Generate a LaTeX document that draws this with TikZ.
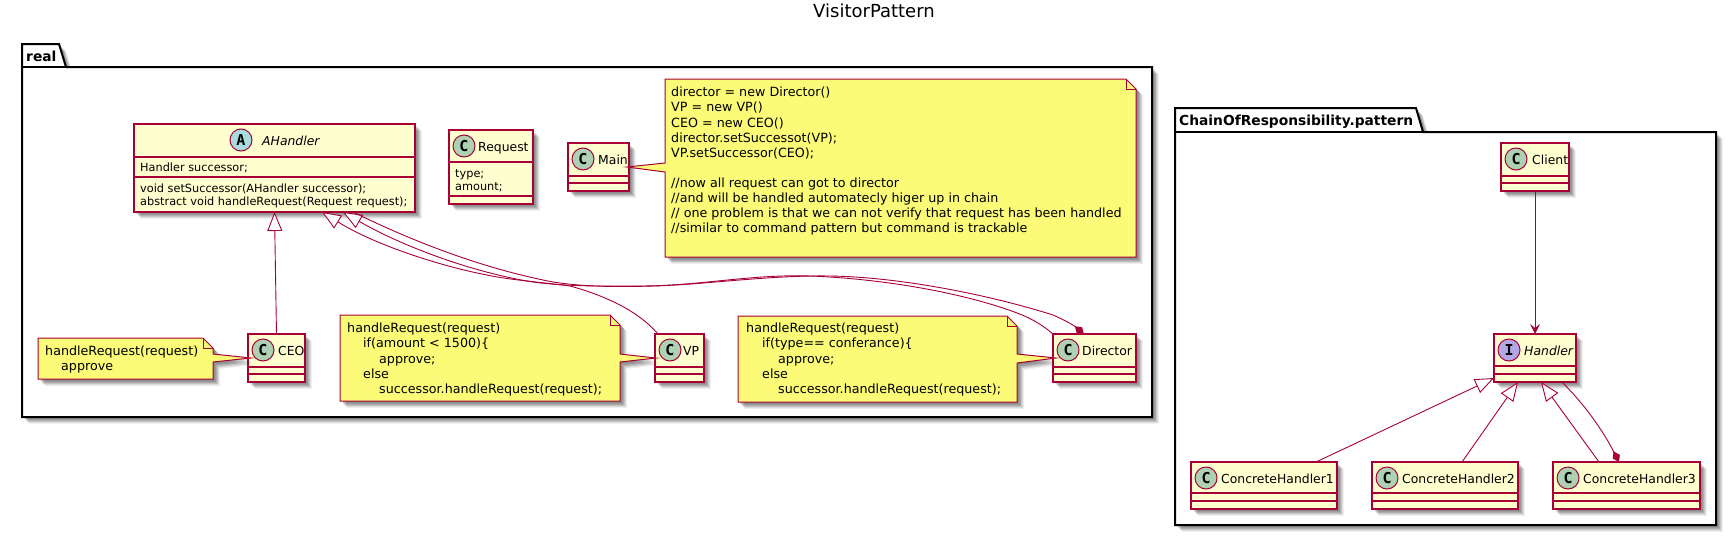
\documentclass[tikz,border=0pt]{standalone}
\usepackage{fontspec}
\setmainfont{DejaVu Sans}
\newfontfamily\circfont{DejaVu Sans Mono}
\usetikzlibrary{arrows.meta,calc}
\definecolor{umlred}{HTML}{A80036}
\definecolor{umlfill}{HTML}{FEFECE}
\definecolor{umlnote}{HTML}{FBFB77}
\definecolor{circC}{HTML}{ADD1B2}
\definecolor{circA}{HTML}{A9DCDF}
\definecolor{circI}{HTML}{B4A7E5}
\tikzset{
  x=1pt,y=-1pt,
  classbox/.style={draw=umlred,fill=umlfill,line width=1.5pt,inner sep=0pt,outer sep=0pt,rectangle},
  classline/.style={draw=umlred,line width=1.3pt},
  circlemark/.style={circle,draw=umlred,line width=1pt,minimum size=22pt,inner sep=0pt,font=\circfont\fontsize{15}{15}\selectfont\bfseries,text=black},
  classname/.style={anchor=base west,inner sep=0pt,font=\fontsize{12.4}{15}\selectfont,text=black},
  member/.style={anchor=base west,inner sep=0pt,font=\fontsize{11.3}{13}\selectfont,text=black},
  notebody/.style={draw=umlred,fill=umlnote,line width=1pt,line join=miter},
  notetext/.style={anchor=north west,inner sep=0pt,align=left,font=\fontsize{12.7}{15.1}\selectfont,text=black},
  pkgline/.style={draw=black,line width=2pt,fill=white},
  pkgname/.style={anchor=base west,inner sep=0pt,font=\fontsize{13.8}{16}\selectfont\bfseries,text=black},
  link/.style={draw=umlred,line width=0.9pt},
  gen/.style={link,-{Triangle[open,length=19pt,width=15pt,fill=white]}},
  comp/.style={link,-{Diamond[length=12pt,width=8pt,fill=umlred]}},
  dep/.style={link,-{Stealth[length=10pt,width=10pt,inset=4pt,fill=umlred]}},
}
\newcommand\softshadow[1]{\foreach \d/\o in {1/.06,2/.08,3/.10,4/.12,5/.10,6/.08,7/.06}{\fill[black,opacity=\o,shift={(\d,\d)}] #1;}}
\newcommand\circoff{15}
% name x1 y1 x2 y2 sep1 sep2 circlecolor letter
\newcommand\classshape[9]{%
  \softshadow{(#2,#3) rectangle (#4,#5)}
  \node[classbox,minimum width={#4-#2},minimum height={#5-#3}] (#1) at ({(#2+#4)/2},{(#3+#5)/2}) {};
  \draw[classline] (#2,#6) -- (#4,#6);
  \draw[classline] (#2,#7) -- (#4,#7);
  \node[circlemark,fill=#8] (#1-c) at (#2+\circoff,#3+16) {#9};
}
% x1 y1 x2 y2 py1 py2 tip : pointer on the right side
\newcommand\noteright[7]{%
  \foreach \d/\o in {1/.06,2/.08,3/.10,4/.12,5/.10,6/.08,7/.06}{
    \coordinate (t) at ($#7+(\d-4,\d)$);
    \fill[black,opacity=\o,shift={(\d,\d)}] (#1,#2) -- (#3-10,#2) -- (#3,#2+10) -- (#3,#5) -- (t) -- (#3,#6) -- (#3,#4) -- (#1,#4) -- cycle;
  }
  \draw[notebody] (#1,#2) -- (#3-10,#2) -- (#3,#2+10) -- (#3,#5) -- #7 -- (#3,#6) -- (#3,#4) -- (#1,#4) -- cycle;
  \draw[notebody,fill=none] (#3-10,#2) -- (#3-10,#2+10) -- (#3,#2+10);
}
\newcommand\noteleft[7]{%
  \foreach \d/\o in {1/.06,2/.08,3/.10,4/.12,5/.10,6/.08,7/.06}{
    \fill[black,opacity=\o,shift={(\d,\d)}] (#1,#2) -- (#3-10,#2) -- (#3,#2+10) -- (#3,#4) -- (#1,#4) -- cycle;
  }
  \draw[notebody] (#1,#2) -- (#3-10,#2) -- (#3,#2+10) -- (#3,#4) -- (#1,#4) -- (#1,#6) -- #7 -- (#1,#5) -- cycle;
  \draw[notebody,fill=none] (#3-10,#2) -- (#3-10,#2+10) -- (#3,#2+10);
}
\begin{document}
\begin{tikzpicture}
\useasboundingbox (0,0) rectangle (1736,536);
\fill[white] (0,0) rectangle (1736,536);

\node[anchor=base,inner sep=0pt,font=\fontsize{18}{20}\selectfont,text=black] (title) at (874,17) {VisitorPattern};

% packages
\softshadow{(22,67) rectangle (1152,417)}
\softshadow{(22,44) -- (59,44) -- (66,67) -- (22,67) -- cycle}
\draw[pkgline] (22,44) -- (59,44) -- (66,67) -- (1152,67) -- (1152,417) -- (22,417) -- cycle;
\draw[draw=black,line width=2pt] (22,67) -- (66,67);
\node[pkgname] (realname) at (26,61) {real};

\softshadow{(1175,132) rectangle (1716,525)}
\softshadow{(1175,108) -- (1416,108) -- (1423,132) -- (1175,132) -- cycle}
\draw[pkgline] (1175,108) -- (1416,108) -- (1423,132) -- (1716,132) -- (1716,525) -- (1175,525) -- cycle;
\draw[draw=black,line width=2pt] (1175,132) -- (1423,132);
\node[pkgname] (chainname) at (1179,125) {ChainOfResponsibility.pattern};

% classes of package real
\renewcommand\circoff{107}
\classshape{ahandler}{134}{124}{415}{212}{157}{177}{circA}{A}
\renewcommand\circoff{15}
\node[classname,font=\fontsize{12.4}{15}\selectfont\itshape] (ahandler-t) at (262,145) {AHandler};
\node[member] (ahandler-m1) at (140,171) {Handler successor;};
\node[member] (ahandler-m2) at (140,192) {void setSuccessor(AHandler successor);};
\node[member] (ahandler-m3) at (140,205) {abstract void handleRequest(Request request);};

\classshape{request}{449}{130}{533}{204}{162}{196}{circC}{C}
\node[classname] (request-t) at (478,151) {Request};
\node[member] (request-m1) at (455,177) {type;};
\node[member] (request-m2) at (455,190) {amount;};

\classshape{main}{568}{143}{629}{191}{176}{183}{circC}{C}
\node[classname] (main-t) at (598,164) {Main};

\classshape{ceo}{248}{334}{305}{382}{367}{374}{circC}{C}
\node[classname] (ceo-t) at (278,355) {CEO};

\classshape{vp}{655}{334}{704}{382}{367}{374}{circC}{C}
\node[classname] (vp-t) at (683,355) {VP};

\classshape{director}{1053}{334}{1136}{382}{367}{374}{circC}{C}
\node[classname] (director-t) at (1082,355) {Director};

% classes of the other package
\classshape{client}{1501}{143}{1569}{191}{176}{183}{circC}{C}
\node[classname] (client-t) at (1532,164) {Client};

\classshape{handler}{1494}{334}{1576}{382}{366}{374}{circI}{I}
\node[classname,font=\fontsize{12.4}{15}\selectfont\itshape] (handler-t) at (1524,355) {Handler};

\classshape{chone}{1191}{462}{1337}{509}{493}{501}{circC}{C}
\node[classname] (chone-t) at (1221,483) {ConcreteHandler1};
\classshape{chtwo}{1372}{462}{1518}{509}{493}{501}{circC}{C}
\node[classname] (chtwo-t) at (1402,483) {ConcreteHandler2};
\classshape{chthree}{1553}{462}{1700}{509}{493}{501}{circC}{C}
\node[classname] (chthree-t) at (1583,483) {ConcreteHandler3};

% notes
\noteleft{665}{79}{1136}{257}{163}{172}{($(main.east)+(-2,0)$)}
\node[notetext] (mainnote) at (671,87) {director = new Director()\\VP = new VP()\\CEO = new CEO()\\director.setSuccessot(VP);\\VP.setSuccessor(CEO);\\~\\//now all request can got to director\\//and will be handled automatecly higer up in chain\\// one problem is that we can not verify that request has been handled\\//similar to command pattern but command is trackable};

\noteright{38}{338}{213}{379}{354}{362}{($(ceo.west)+(3,0)$)}
\node[notetext] (ceonote) at (45,346) {handleRequest(request)\\\hspace*{16pt}approve};

\noteright{340}{315}{620}{401}{354}{362}{($(vp.west)+(1,0)$)}
\node[notetext] (vpnote) at (347,323) {handleRequest(request)\\\hspace*{16pt}if(amount < 1500)\{\\\hspace*{32pt}approve;\\\hspace*{16pt}else\\\hspace*{32pt}successor.handleRequest(request);};

\noteright{738}{316}{1017}{402}{354}{363}{($(director.west)+(3,0)$)}
\node[notetext] (directornote) at (746,323) {handleRequest(request)\\\hspace*{16pt}if(type== conferance)\{\\\hspace*{32pt}approve;\\\hspace*{16pt}else\\\hspace*{32pt}successor.handleRequest(request);};

% connectors of package real
\draw[gen] (ceo.north) -- (ahandler.south);
\draw[gen] ($(vp.north west)+(3,0)$) .. controls (640,313) and (610,297) .. (570,286)
  .. controls (540,282) and (510,280) .. (487,275)
  .. controls (440,266) and (375,245) .. ($(ahandler.south)+(47.5,0)$);
\draw[gen] (director.north west) .. controls (1040,323) and (1028,317) .. (1017,313)
  .. controls (970,295) and (890,279) .. (810,276)
  .. controls (750,274) and (700,286) .. (640,286)
  .. controls (610,286) and (570,287) .. (533,282)
  .. controls (470,272) and (400,245) .. ($(ahandler.south)+(68.5,0)$);
\draw[comp] ($(ahandler.south)+(78.5,0)$) .. controls (410,240) and (480,268) .. (553,282)
  .. controls (585,287) and (620,287) .. (653,286)
  .. controls (700,285) and (770,275) .. (830,276)
  .. controls (900,277) and (990,295) .. (1053,315)
  .. controls (1062,319) and (1072,324) .. ($(director.north west)+(31,0)$);

% connectors of the other package
\draw[dep] (client.south) -- (handler.north);
\draw[gen] ($(chone.north)+(52,0)$) -- ($(handler.south west)+(0,-4)$);
\draw[gen] ($(chtwo.north)+(17,0)$) -- ($(handler.south)+(-17,0)$);
\draw[gen] ($(chthree.north)+(-27.5,0)$) -- ($(handler.south)+(6,0)$);
\draw[comp] ($(handler.south)+(27,0)$) .. controls (1580,400) and (1600,425) .. ($(chthree.north)+(-7.5,0)$);
\end{tikzpicture}
\end{document}
